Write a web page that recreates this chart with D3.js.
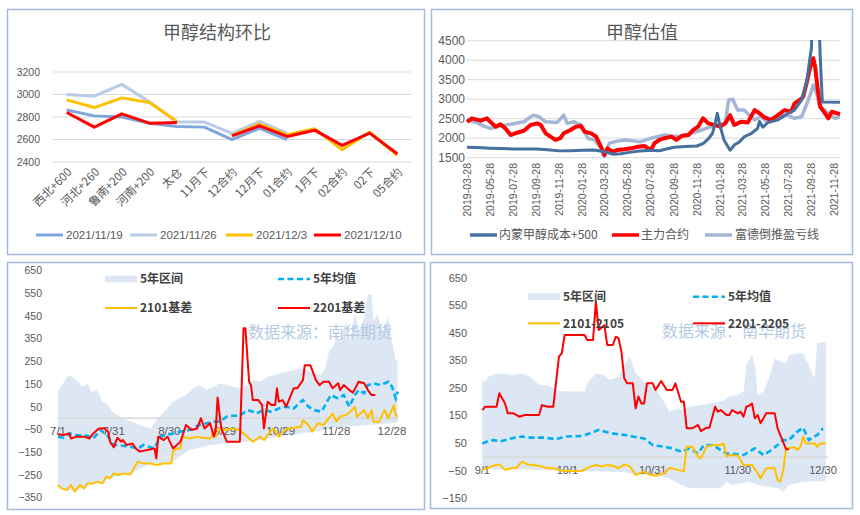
<!DOCTYPE html>
<html><head><meta charset="utf-8">
<script src="https://cdn.jsdelivr.net/npm/d3@7"></script>
<style>body{margin:0;background:#fff}svg{display:block}</style>
</head><body><svg id="c" width="860" height="515"></svg>
<script>
// ---------- Panel 1: 甲醇结构环比 ----------
const p1Title = "甲醇结构环比";
const p1Categories = ["西北+600","河北+260","鲁南+200","河南+200","太仓","11月下","12合约","12月下","01合约","1月下","02合约","02下","05合约"];
const p1Names = ["2021/11/19","2021/11/26","2021/12/3","2021/12/10"];
const p1S1119 = [2863,2810,2800,2745,2716,2710,2598,2700,2600,null,null,null,null];
const p1S1126 = [3000,2985,3090,2935,2755,2755,2655,2760,2655,null,null,null,null];
const p1S1203 = [2952,2884,2970,2928,2760,null,2636,2737,2642,2695,2509,2666,2460];
const p1S1210 = [2840,2710,2828,2745,2751,null,2633,2722,2627,2683,2548,2657,2474];
const p1Ticks = [2400,2600,2800,3000,3200];

// ---------- Panel 2: 甲醇估值 ----------
const p2Title = "甲醇估值";
const p2Names = ["内蒙甲醇成本+500","主力合约","富德倒推盈亏线"];
const p2Ticks = [1500,2000,2500,3000,3500,4000,4500];
const p2TickDates = ["2019-03-28","2019-05-28","2019-07-28","2019-09-28","2019-11-28","2020-01-28","2020-03-28","2020-05-28","2020-07-28","2020-09-28","2020-11-28","2021-01-28","2021-03-28","2021-05-28","2021-07-28","2021-09-28","2021-11-28"];
const p2Cost = [["2019-03-28",1770],["2019-04-25",1760],["2019-05-28",1745],["2019-06-25",1735],["2019-07-28",1725],["2019-08-28",1720],["2019-09-28",1725],["2019-10-28",1705],["2019-11-28",1675],["2019-12-28",1680],["2020-01-28",1690],["2020-02-28",1700],["2020-03-28",1650],["2020-04-20",1590],["2020-05-10",1600],["2020-05-28",1630],["2020-06-28",1670],["2020-07-28",1690],["2020-08-20",1680],["2020-09-10",1730],["2020-09-28",1770],["2020-10-28",1790],["2020-11-28",1800],["2020-12-15",1870],["2020-12-28",1980],["2021-01-08",2120],["2021-01-16",2400],["2021-01-21",2640],["2021-01-28",2330],["2021-02-08",1950],["2021-02-24",1690],["2021-03-08",1830],["2021-03-20",1900],["2021-04-03",2040],["2021-04-21",2120],["2021-05-08",2250],["2021-05-13",2430],["2021-05-22",2280],["2021-06-04",2400],["2021-07-01",2470],["2021-07-28",2640],["2021-08-14",2720],["2021-09-02",2980],["2021-09-15",3400],["2021-09-24",4050],["2021-09-28",4300],["2021-10-01",5200],["2021-10-18",5200],["2021-10-21",4200],["2021-10-27",2930],["2021-12-13",2920]];
const p2Main = [["2019-03-28",2420],["2019-04-10",2510],["2019-05-03",2450],["2019-05-20",2510],["2019-05-29",2420],["2019-06-12",2295],["2019-06-25",2360],["2019-07-08",2250],["2019-07-22",2080],["2019-08-08",2140],["2019-08-26",2190],["2019-09-13",2340],["2019-10-01",2380],["2019-10-10",2340],["2019-10-23",2125],["2019-11-05",2040],["2019-11-18",1955],["2019-12-01",2000],["2019-12-10",2125],["2019-12-28",2210],["2020-01-11",2295],["2020-01-25",2310],["2020-02-03",2170],["2020-02-21",2125],["2020-03-05",2040],["2020-03-18",1780],["2020-03-27",1570],["2020-04-04",1740],["2020-04-18",1655],["2020-05-01",1700],["2020-05-19",1715],["2020-06-06",1740],["2020-06-24",1780],["2020-07-11",1800],["2020-07-29",1700],["2020-08-07",1870],["2020-08-20",1955],["2020-09-03",2000],["2020-09-21",2040],["2020-10-04",1955],["2020-10-18",2055],["2020-11-05",2080],["2020-11-18",2210],["2020-12-01",2295],["2020-12-14",2510],["2020-12-28",2380],["2021-01-14",2340],["2021-01-28",2295],["2021-02-11",2380],["2021-02-24",2590],["2021-03-07",2340],["2021-03-25",2420],["2021-04-12",2400],["2021-04-30",2720],["2021-05-13",2640],["2021-05-26",2535],["2021-06-13",2470],["2021-07-01",2590],["2021-07-19",2720],["2021-08-05",2680],["2021-08-14",2890],["2021-08-28",2980],["2021-09-06",3060],["2021-09-15",3400],["2021-09-24",3790],["2021-10-03",4050],["2021-10-08",3830],["2021-10-14",3320],["2021-10-21",2810],["2021-11-03",2640],["2021-11-12",2510],["2021-11-21",2680],["2021-12-04",2640],["2021-12-13",2620]];
const p2Fude = [["2019-03-28",2465],["2019-04-24",2400],["2019-05-12",2310],["2019-05-29",2250],["2019-06-25",2310],["2019-07-22",2360],["2019-08-26",2420],["2019-09-13",2550],["2019-09-22",2590],["2019-10-05",2550],["2019-10-23",2420],["2019-11-22",2400],["2019-12-10",2590],["2019-12-19",2380],["2020-01-06",2420],["2020-01-25",2340],["2020-02-12",2000],["2020-03-01",1955],["2020-03-18",1740],["2020-03-27",1525],["2020-04-09",1870],["2020-04-23",1910],["2020-05-19",1955],["2020-07-02",1910],["2020-07-29",2000],["2020-09-03",2080],["2020-10-09",2040],["2020-11-13",2125],["2020-12-10",2210],["2021-01-05",2295],["2021-01-24",2340],["2021-02-11",2380],["2021-02-20",2980],["2021-03-03",3000],["2021-03-16",2720],["2021-04-03",2720],["2021-04-16",2590],["2021-04-30",2470],["2021-05-17",2550],["2021-06-04",2420],["2021-07-01",2550],["2021-07-28",2590],["2021-08-14",2510],["2021-09-02",2550],["2021-09-20",2980],["2021-10-03",3360],["2021-10-12",3150],["2021-10-21",2810],["2021-11-03",2720],["2021-11-16",2590],["2021-11-30",2510],["2021-12-13",2550]];

// ---------- Panel 3: 01 basis ----------
const p3Names = ["5年区间","5年均值","2101基差","2201基差"];
const p3Ticks = [650,550,450,350,250,150,50,-50,-150,-250,-350];
const p3TickDates = ["7/1","7/31","8/30","9/29","10/29","11/28","12/28"];
const p3BandUpper = [["7/1",117],["7/2",132],["7/6",183],["7/8",187],["7/11",168],["7/14",139],["7/17",154],["7/19",117],["7/22",124],["7/25",73],["7/28",58],["7/30",29],["8/2",14],["8/5",0],["8/14",-30],["8/20",-45],["8/23",-8],["8/29",43],["9/1",73],["9/8",102],["9/12",132],["9/15",146],["9/19",124],["9/23",139],["9/26",154],["9/30",146],["10/3",139],["10/7",132],["10/11",146],["10/14",168],["10/18",161],["10/22",183],["10/26",190],["10/29",198],["11/1",205],["11/5",212],["11/9",220],["11/12",212],["11/16",198],["11/20",190],["11/22",220],["11/24",293],["11/26",315],["11/29",367],["11/30",337],["12/3",425],["12/6",337],["12/8",469],["12/10",381],["12/13",440],["12/15",546],["12/17",546],["12/18",425],["12/20",462],["12/23",381],["12/26",447],["12/28",337],["12/30",249],["12/31",264]];
const p3BandLower = [["7/1",-300],["7/10",-320],["7/20",-290],["7/31",-260],["8/10",-240],["8/20",-200],["8/31",-195],["9/10",-140],["9/20",-120],["9/30",-110],["10/15",-100],["10/29",-80],["11/15",-60],["11/28",-40],["12/15",-30],["12/31",-20]];
const p3Mean = [["7/1",-81],["7/4",-86],["7/7",-67],["7/11",-74],["7/17",-77],["7/20",-89],["7/24",-52],["7/28",-81],["7/31",-118],["8/5",-121],["8/9",-125],["8/13",-133],["8/16",-118],["8/22",-133],["8/25",-81],["8/29",-74],["9/5",-59],["9/10",-52],["9/15",-30],["9/19",-22],["9/23",-15],["9/26",-15],["9/30",7],["10/3",11],["10/7",11],["10/11",36],["10/14",29],["10/16",21],["10/20",36],["10/24",29],["10/28",43],["11/1",51],["11/5",43],["11/9",73],["11/10",80],["11/13",51],["11/16",36],["11/20",29],["11/22",58],["11/25",102],["11/29",87],["12/2",102],["12/5",51],["12/8",102],["12/10",124],["12/13",110],["12/15",146],["12/18",154],["12/22",146],["12/26",161],["12/28",139],["12/30",87],["12/31",117]];
const p3Yellow = [["7/1",-294],["7/3",-309],["7/6",-316],["7/8",-294],["7/10",-323],["7/13",-294],["7/15",-309],["7/17",-287],["7/20",-287],["7/22",-279],["7/25",-287],["7/27",-257],["7/29",-265],["7/31",-243],["8/3",-250],["8/5",-243],["8/9",-247],["8/13",-191],["8/16",-199],["8/20",-199],["8/23",-206],["8/27",-199],["8/31",-199],["9/1",-147],["9/3",-133],["9/5",-133],["9/6",-81],["9/10",-89],["9/14",-81],["9/17",-86],["9/21",-89],["9/23",-59],["9/24",-81],["9/26",-45],["9/30",-52],["10/3",-45],["10/7",-52],["10/11",-81],["10/14",-103],["10/18",-81],["10/20",-96],["10/22",-74],["10/25",-45],["10/28",-81],["10/31",-52],["11/3",-45],["11/9",-37],["11/10",-8],["11/13",-30],["11/15",-59],["11/18",-22],["11/21",-30],["11/23",-8],["11/26",21],["11/28",-15],["11/30",7],["12/4",17],["12/8",51],["12/9",7],["12/13",36],["12/15",0],["12/17",36],["12/18",-15],["12/21",-15],["12/24",36],["12/26",0],["12/29",58],["12/30",14],["12/31",7]];
const p3Red = [["7/1",-71],["7/4",-74],["7/7",-67],["7/8",-89],["7/11",-81],["7/15",-81],["7/18",-89],["7/20",-67],["7/23",-45],["7/26",-45],["7/28",-59],["7/29",-103],["7/31",-128],["8/2",-86],["8/4",-103],["8/5",-96],["8/7",-118],["8/10",-111],["8/12",-133],["8/14",-147],["8/18",-140],["8/22",-133],["8/23",-177],["8/24",-81],["8/27",-96],["8/29",-81],["9/1",-133],["9/5",-103],["9/8",-30],["9/11",-52],["9/14",-45],["9/16",0],["9/18",-45],["9/21",-22],["9/23",-81],["9/24",-52],["9/25",91],["9/27",-45],["9/30",-103],["10/3",-103],["10/7",-103],["10/9",396],["10/10",396],["10/12",161],["10/13",146],["10/14",80],["10/17",80],["10/19",58],["10/20",-45],["10/22",73],["10/24",58],["10/26",58],["10/27",132],["10/28",73],["10/30",80],["11/1",51],["11/5",132],["11/7",132],["11/10",168],["11/11",234],["11/14",234],["11/17",168],["11/19",146],["11/21",161],["11/24",161],["11/26",132],["11/29",154],["11/30",124],["12/2",146],["12/5",124],["12/7",113],["12/10",161],["12/13",154],["12/15",124],["12/17",102],["12/19",102]];

// ---------- Panel 4: 1-5 spread ----------
const p4Names = ["5年区间","5年均值","2101-2105","2201-2205"];
const p4Ticks = [650,550,450,350,250,150,50,-50,-150];
const p4TickDates = ["9/1","10/1","10/31","11/30","12/30"];
const p4BandUpper = [["9/1",279],["9/2",273],["9/3",291],["9/5",300],["9/9",303],["9/11",297],["9/15",303],["9/18",291],["9/21",261],["9/24",261],["9/28",239],["10/2",237],["10/7",237],["10/8",267],["10/11",303],["10/14",297],["10/16",279],["10/19",291],["10/21",333],["10/23",364],["10/25",303],["10/28",273],["10/30",261],["11/1",249],["11/4",200],["11/6",164],["11/9",176],["11/11",170],["11/13",182],["11/17",188],["11/20",194],["11/23",200],["11/25",206],["11/27",219],["11/30",225],["12/2",237],["12/3",333],["12/5",370],["12/6",333],["12/7",225],["12/9",237],["12/11",285],["12/13",357],["12/15",345],["12/17",339],["12/18",370],["12/21",376],["12/23",376],["12/25",333],["12/27",285],["12/28",412],["12/30",416],["12/31",416]];
const p4BandLower = [["9/1",-45],["9/15",-45],["10/1",-50],["10/20",-55],["10/25",-62],["10/31",-65],["11/5",-75],["11/9",-96],["11/13",-114],["11/24",-114],["11/26",-90],["11/28",-102],["12/4",-90],["12/7",-102],["12/14",-114],["12/16",-126],["12/18",-102],["12/23",-90],["12/31",-87]];
const p4Mean = [["9/1",49],["9/4",61],["9/8",58],["9/11",67],["9/15",74],["9/18",70],["9/23",70],["9/27",64],["9/30",74],["10/6",76],["10/9",86],["10/12",98],["10/16",86],["10/21",80],["10/24",74],["10/28",67],["10/31",43],["11/4",37],["11/7",31],["11/10",19],["11/13",31],["11/16",13],["11/18",43],["11/21",43],["11/24",25],["11/26",13],["11/30",10],["12/2",7],["12/6",31],["12/9",7],["12/11",19],["12/14",43],["12/16",61],["12/18",61],["12/21",92],["12/23",106],["12/25",61],["12/28",80],["12/30",104]];
const p4Yellow = [["9/1",-47],["9/4",-35],["9/7",-27],["9/9",-47],["9/11",-41],["9/13",-39],["9/15",-17],["9/17",-27],["9/19",-29],["9/22",-35],["9/24",-41],["9/26",-41],["9/28",-47],["9/30",-51],["10/6",-51],["10/9",-35],["10/11",-29],["10/13",-35],["10/15",-29],["10/17",-32],["10/19",-41],["10/21",-27],["10/23",-35],["10/25",-65],["10/28",-53],["10/30",-65],["11/1",-68],["11/4",-59],["11/6",-39],["11/9",-47],["11/11",-53],["11/12",37],["11/14",37],["11/16",1],["11/17",-5],["11/19",37],["11/21",43],["11/24",43],["11/25",49],["11/26",1],["11/27",7],["11/30",5],["12/2",-29],["12/5",-29],["12/7",-59],["12/8",-77],["12/10",-41],["12/13",-41],["12/14",-83],["12/15",-90],["12/16",-47],["12/17",31],["12/20",35],["12/21",25],["12/22",37],["12/23",74],["12/24",49],["12/27",49],["12/28",37],["12/29",49],["12/31",49]];
const p4Red = [["9/1",170],["9/2",182],["9/4",182],["9/6",182],["9/7",231],["9/9",194],["9/10",158],["9/12",158],["9/14",146],["9/16",152],["9/21",152],["9/22",188],["9/24",182],["9/26",182],["9/28",364],["9/29",376],["9/30",442],["10/3",442],["10/7",442],["10/8",424],["10/10",424],["10/11",563],["10/12",460],["10/14",478],["10/15",406],["10/17",406],["10/18",436],["10/19",430],["10/20",382],["10/21",285],["10/22",267],["10/24",267],["10/25",176],["10/26",219],["10/27",194],["10/28",194],["10/29",267],["10/31",267],["11/1",243],["11/3",275],["11/5",243],["11/7",243],["11/8",267],["11/10",200],["11/11",200],["11/12",104],["11/14",104],["11/16",116],["11/17",94],["11/19",106],["11/20",106],["11/22",182],["11/23",164],["11/24",170],["11/26",152],["11/27",152],["11/28",170],["11/30",158],["12/1",164],["12/2",146],["12/3",182],["12/4",186],["12/5",194],["12/6",140],["12/7",152],["12/8",122],["12/10",158],["12/12",158],["12/13",158],["12/14",104],["12/17",28],["12/18",28]];

const watermark = "数据来源：南华期货";

// ================= drawing =================
const svg = d3.select("#c");
const NUM = "'Liberation Sans','Noto Sans CJK SC',sans-serif";
const CJK = "'Noto Sans CJK SC','Liberation Sans',sans-serif";
const TXT = "#595959";
const GRID = "#D9D9D9";
const BORDER = "#A3BBDC";
const pd = d3.timeParse("%Y-%m-%d");
const md = s => d3.timeParse("%Y/%m/%d")("2021/" + s);

svg.append("rect").attr("width",860).attr("height",515).attr("fill","#fff");
[[7.5,9.5,417,245],[431.5,9.5,421,245],[7.5,262.5,417,247],[430.5,262.5,422,246]].forEach(f=>{
  svg.append("rect").attr("x",f[0]).attr("y",f[1]).attr("width",f[2]).attr("height",f[3])
    .attr("fill","none").attr("stroke",BORDER).attr("stroke-width",1.5);
});

function text(g,x,y,t,o){
  o=o||{};
  return g.append("text").attr("x",x).attr("y",y).text(t)
    .attr("font-family",o.ff||NUM).attr("font-size",o.fs||11)
    .attr("fill",o.fill||TXT).attr("text-anchor",o.anchor||"start")
    .attr("font-weight",o.fw||"normal").attr("dy",o.dy||"0.35em");
}

// ---- Panel 1 ----
{
  const g = svg.append("g");
  const x = d3.scaleBand().domain(p1Categories).range([53,411]);
  const y = d3.scaleLinear().domain([2400,3200]).range([162,72]);
  const cx = c => x(c)+x.bandwidth()/2;
  text(g,217,33,p1Title,{ff:CJK,fs:18,anchor:"middle"});
  p1Ticks.forEach(t=>{
    g.append("line").attr("x1",53).attr("x2",411).attr("y1",y(t)).attr("y2",y(t)).attr("stroke",GRID).attr("stroke-width",1);
    text(g,40,y(t),t,{fs:10.5,anchor:"end"});
  });
  p1Categories.forEach(c=>{
    g.append("text").attr("transform",`translate(${cx(c)+3},170) rotate(-45)`)
      .attr("text-anchor","end").attr("dy","0.35em").attr("font-family",CJK).attr("font-size",11.5).attr("fill",TXT).text(c);
  });
  const series = [p1S1119,p1S1126,p1S1203,p1S1210];
  const cols = ["#7EA6DC","#B7CBE8","#FFC000","#FF0000"];
  const line = d3.line().defined(d=>d[1]!=null).x(d=>cx(d[0])).y(d=>y(d[1]));
  series.forEach((s,i)=>{
    g.append("path").attr("d",line(p1Categories.map((c,j)=>[c,s[j]])))
      .attr("fill","none").attr("stroke",cols[i]).attr("stroke-width",3).attr("stroke-linejoin","round");
  });
  const lx = [36,130,226,314];
  p1Names.forEach((n,i)=>{
    g.append("line").attr("x1",lx[i]).attr("x2",lx[i]+27).attr("y1",235).attr("y2",235).attr("stroke",cols[i]).attr("stroke-width",3);
    text(g,lx[i]+30,235,n,{fs:11.5});
  });
}

// ---- Panel 2 ----
{
  const g = svg.append("g");
  const x = d3.scaleTime().domain([pd("2019-03-28"),pd("2021-12-13")]).range([467,840]);
  const y = d3.scaleLinear().domain([1500,4500]).range([157.7,40.7]);
  text(g,642,33,p2Title,{ff:CJK,fs:18,anchor:"middle"});
  p2Ticks.forEach(t=>{
    g.append("line").attr("x1",467).attr("x2",840).attr("y1",y(t)).attr("y2",y(t)).attr("stroke",GRID).attr("stroke-width",1);
    text(g,465,y(t),t,{fs:12,anchor:"end"});
  });
  p2TickDates.forEach(d=>{
    g.append("text").attr("transform",`translate(${x(pd(d))},163) rotate(-90)`)
      .attr("text-anchor","end").attr("dy","0.35em").attr("font-family",NUM).attr("font-size",10.5).attr("fill",TXT).text(d);
  });
  svg.append("clipPath").attr("id","clip2").append("rect").attr("x",460).attr("y",40).attr("width",385).attr("height",120);
  const line = d3.line().x(d=>x(pd(d[0]))).y(d=>y(d[1]));
  const cols = ["#46709F","#FF0000","#A5B5D6"];
  const widths = [3,4,3.5];
  const data = [p2Cost,p2Main,p2Fude];
  [2,1,0].forEach(i=>{
    g.append("path").attr("d",line(data[i])).attr("clip-path","url(#clip2)")
      .attr("fill","none").attr("stroke",cols[i]).attr("stroke-width",widths[i]).attr("stroke-linejoin","round");
  });
  const lx = [470,612,705];
  const tx = [499,641,735];
  p2Names.forEach((n,i)=>{
    g.append("line").attr("x1",lx[i]).attr("x2",lx[i]+27).attr("y1",235).attr("y2",235).attr("stroke",cols[i]).attr("stroke-width",3.5);
    text(g,tx[i],235,n,{ff:CJK,fs:12});
  });
}

// ---- shared drawer for basis panels ----
function basisPanel(o){
  const g = svg.append("g");
  const x = d3.scaleTime().domain([md(o.d0),md(o.d1)]).range([o.x0,o.x1]);
  const y = d3.scaleLinear().domain([o.vTop,o.vBot]).range([o.yTop,o.yBot]);
  const line = d3.line().x(d=>x(md(d[0]))).y(d=>y(d[1]));
  const poly = o.upper.concat(o.lower.slice().reverse());
  g.append("path").attr("d",line(poly)+"Z").attr("fill","#DDE7F3").attr("stroke","none");
  g.append("line").attr("x1",o.zx0).attr("x2",o.zx1).attr("y1",y(0)).attr("y2",y(0)).attr("stroke",GRID).attr("stroke-width",1.5);
  o.ticks.forEach(t=>{
    text(g,o.labelX,y(t),String(t).replace("-","\u2212"),{fs:o.tfs,anchor:"end"});
  });
  o.tickDates.forEach(d=>{
    text(g,x(md(d)),o.xLabelY,d,{fs:o.xfs,anchor:"middle"});
  });
  text(g,o.wmX,o.wmY,watermark,{ff:CJK,fs:16,fill:"#B4C9E4"});
  g.append("path").attr("d",line(o.mean)).attr("fill","none").attr("stroke","#00B0F0").attr("stroke-width",2.6).attr("stroke-dasharray","6,3.5");
  g.append("path").attr("d",line(o.yellow)).attr("fill","none").attr("stroke","#FFC000").attr("stroke-width",2).attr("stroke-linejoin","round");
  g.append("path").attr("d",line(o.red)).attr("fill","none").attr("stroke","#FF0000").attr("stroke-width",2).attr("stroke-linejoin","round");
  const L = o.leg;
  g.append("rect").attr("x",L.x1).attr("y",L.y1-3.3).attr("width",32).attr("height",6.6).attr("fill","#DDE7F3");
  text(g,L.x1+35,L.y1,o.names[0],{ff:CJK,fs:12,fw:"bold",fill:"#404040"});
  g.append("line").attr("x1",L.x2).attr("x2",L.x2+32).attr("y1",L.y1).attr("y2",L.y1).attr("stroke","#00B0F0").attr("stroke-width",2.6).attr("stroke-dasharray","6,3.5");
  text(g,L.x2+35,L.y1,o.names[1],{ff:CJK,fs:12,fw:"bold",fill:"#404040"});
  g.append("line").attr("x1",L.x1).attr("x2",L.x1+32).attr("y1",L.y2).attr("y2",L.y2).attr("stroke","#FFC000").attr("stroke-width",2);
  text(g,L.x1+35,L.y2,o.names[2],{ff:CJK,fs:12,fw:"bold",fill:"#404040"});
  g.append("line").attr("x1",L.x2).attr("x2",L.x2+32).attr("y1",L.y2).attr("y2",L.y2).attr("stroke","#FF0000").attr("stroke-width",2);
  text(g,L.x2+35,L.y2,o.names[3],{ff:CJK,fs:12,fw:"bold",fill:"#404040"});
}

basisPanel({d0:"7/1",d1:"12/28",x0:58,x1:392,vTop:650,vBot:-350,yTop:270.7,yBot:497.7,
  upper:[["7/1",-300]].concat(p3BandUpper),lower:p3BandLower,mean:p3Mean,yellow:p3Yellow,red:p3Red,
  ticks:p3Ticks,tickDates:p3TickDates,labelX:42,tfs:10.5,xfs:11.5,xLabelY:431,zx0:57,zx1:398,
  wmX:248,wmY:332,names:p3Names,leg:{x1:105,x2:278,y1:279,y2:308}});

basisPanel({d0:"9/1",d1:"12/30",x0:482.3,x1:823,vTop:650,vBot:-150,yTop:277.7,yBot:498.3,
  upper:p4BandUpper,lower:p4BandLower,mean:p4Mean,yellow:p4Yellow,red:p4Red,
  ticks:p4Ticks,tickDates:p4TickDates,labelX:467,tfs:11,xfs:11,xLabelY:470,zx0:482,zx1:828,
  wmX:662,wmY:331,names:p4Names,leg:{x1:528,x2:693,y1:296.7,y2:323.3}});
</script></body></html>
